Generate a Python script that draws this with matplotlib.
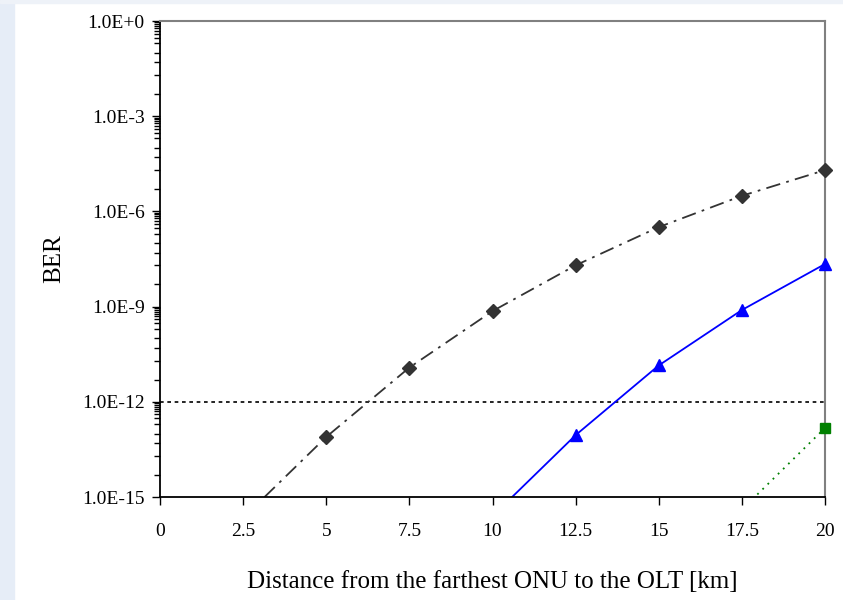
import numpy as np
import matplotlib
matplotlib.use("Agg")
import matplotlib.pyplot as plt
from matplotlib.ticker import FixedLocator, FuncFormatter, NullFormatter

plt.rcParams['font.family'] = ['Liberation Serif', 'DejaVu Serif']

# data
dist_blk = [2.5, 5, 7.5, 10, 12.5, 15, 17.5, 20]
ber_blk = [2.2e-16, 7.8e-14, 1.2e-11, 7.2e-10, 2.0e-8, 3.2e-7, 3.1e-6, 2.0e-5]
dist_blu = [10, 12.5, 15, 17.5, 20]
ber_blu = [2.5e-16, 8.9e-14, 1.4e-11, 7.8e-10, 2.2e-8]
dist_grn = [17.5, 20]
ber_grn = [4.0e-16, 1.5e-13]
thresh = 1e-12
xticks = [0, 2.5, 5, 7.5, 10, 12.5, 15, 17.5, 20]
xlabels = ['0', '2.5', '5', '7.5', '10', '12.5', '15', '17.5', '20']
YMIN, YMAX = 1e-15, 1.0

fig = plt.figure(figsize=(8.43, 6.0), dpi=100)
fig.patch.set_facecolor('white')
# pale blue strip at the left edge
fig.patches.append(plt.Rectangle((0, 0), 14/843, 1, transform=fig.transFigure,
                                 color='#e6edf7', zorder=0))
fig.patches.append(plt.Rectangle((0, 597/600), 1, 3/600, transform=fig.transFigure,
                                 color='#eef2f8', zorder=0))

ax = fig.add_axes([160/843, 1 - 497/600, 665/843, 476/600])
ax.set_yscale('log')
ax.set_xlim(0, 20)
ax.set_ylim(YMIN, YMAX)

ax.plot([0, 20], [thresh, thresh], ls=(0, (2.2, 2.2)), color='black', lw=1.2)

series = [
    (dist_blk, ber_blk, '#333333', (0, (8, 3.5, 1.5, 3.5)), 'D', 7),
    (dist_blu, ber_blu, '#0000ff', '-', '^', 8.5),
    (dist_grn, ber_grn, '#008000', (0, (1, 3)), 's', 7),
]
for xs, ys, c, ls, mk, ms in series:
    ax.plot(xs, ys, color=c, lw=1.3, ls=ls)
    # markers that fall inside the y range, drawn without clipping so the
    # ones at x = 20 are not cut in half
    pts = [(x, y) for x, y in zip(xs, ys) if YMIN <= y <= YMAX]
    ax.plot([p[0] for p in pts], [p[1] for p in pts], ls='none', marker=mk,
            ms=ms, color=c, clip_on=False, zorder=5)

majors = [10.0 ** (-3 * k) for k in range(6)]
minors = []
for k in range(5):
    lo = 10.0 ** (-3 * (k + 1))
    for m in [5, 20, 50, 100, 200, 300, 400, 500, 600, 700, 800, 900]:
        minors.append(lo * m)
ax.yaxis.set_major_locator(FixedLocator(majors))
ax.yaxis.set_minor_locator(FixedLocator(minors))
ax.yaxis.set_major_formatter(FuncFormatter(
    lambda v, p: '1.0E+0' if v >= 1 else '1.0E%d' % int(round(np.log10(v)))))
ax.yaxis.set_minor_formatter(NullFormatter())
ax.set_xticks(xticks)
ax.set_xticklabels(xlabels)

ax.tick_params(axis='both', which='major', direction='out', length=6, width=1,
               labelsize=14, colors='black')
ax.tick_params(axis='x', which='major', pad=13)
ax.tick_params(axis='y', which='major', pad=5)
ax.tick_params(axis='y', which='minor', direction='out', length=4, width=1)

for s in ['top', 'right']:
    ax.spines[s].set_color('#808080')
    ax.spines[s].set_linewidth(1.5)
for s in ['left', 'bottom']:
    ax.spines[s].set_color('black')
    ax.spines[s].set_linewidth(1.3)

ax.set_xlabel('Distance from the farthest ONU to the OLT [km]', fontsize=18, labelpad=22)
ax.set_ylabel('BER', fontsize=18, labelpad=12)

fig.savefig('out.png', dpi=100)
